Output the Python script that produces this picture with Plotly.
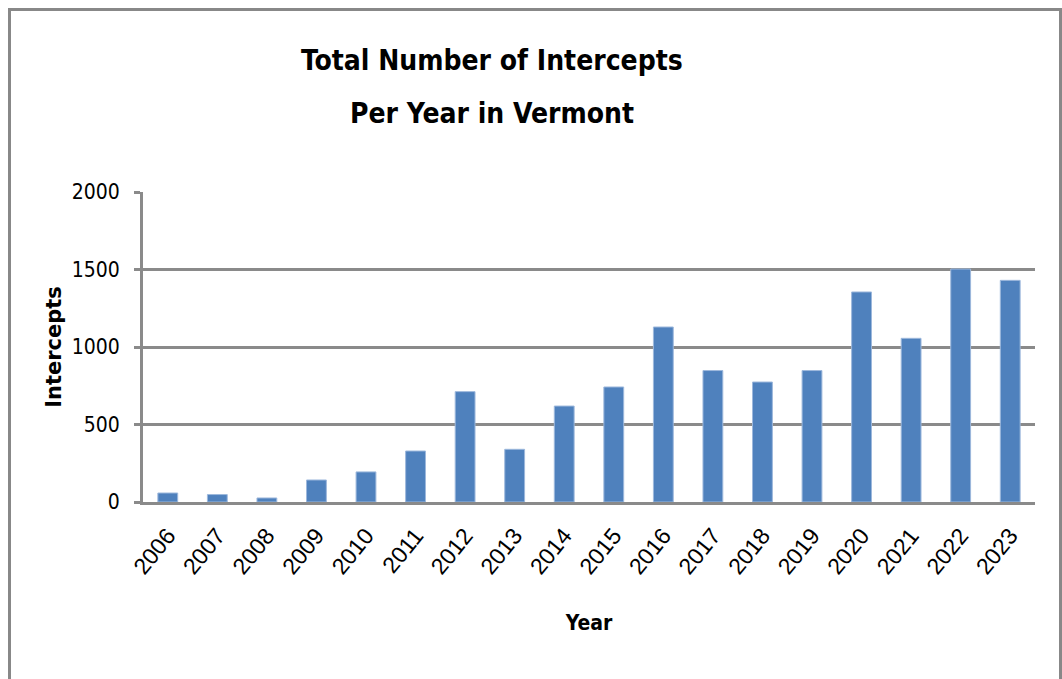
import plotly.graph_objects as go

years = ["2006", "2007", "2008", "2009", "2010", "2011", "2012", "2013", "2014",
         "2015", "2016", "2017", "2018", "2019", "2020", "2021", "2022", "2023"]
intercepts = [58, 48, 26, 142, 194, 329, 712, 340, 619,
              742, 1129, 848, 774, 848, 1355, 1056, 1503, 1430]
y_ticks = [0, 500, 1000, 1500, 2000]

W, H = 1062, 679
ML, MR, MT, MB = 143, 27, 192, 177
PW, PH = W - ML - MR, H - MT - MB

def px_x(p):
    return (p - ML) / PW

def px_y(p):
    return (H - MB - p) / PH

NARROW = "Liberation Sans Narrow, Arial Narrow, DejaVu Sans Condensed, sans-serif"
GRID = "#8a8a8a"

fig = go.Figure(go.Bar(
    x=years, y=intercepts,
    marker=dict(color="#4f81bd", line=dict(color="#9db8dc", width=1)),
))

fig.update_layout(
    width=W, height=H,
    margin=dict(l=ML, r=MR, t=MT, b=MB),
    paper_bgcolor="white", plot_bgcolor="white",
    bargap=0.6,
    showlegend=False,
    annotations=[
        dict(text="<b>Total Number of Intercepts</b>", xref="paper", yref="paper",
             x=px_x(491.5), y=px_y(60), xanchor="center", yanchor="middle",
             showarrow=False, font=dict(family=NARROW, size=28, color="black")),
        dict(text="<b>Per Year in Vermont</b>", xref="paper", yref="paper",
             x=px_x(491.5), y=px_y(114), xanchor="center", yanchor="middle",
             showarrow=False, font=dict(family=NARROW, size=28, color="black")),
    ],
    shapes=[
        dict(type="rect", xref="paper", yref="paper",
             x0=px_x(9.5), x1=px_x(1060.5), y0=px_y(700), y1=px_y(9.5),
             line=dict(color="#888888", width=3), fillcolor="rgba(0,0,0,0)", layer="below"),
    ],
)

fig.update_xaxes(
    type="category",
    tickangle=-51,
    tickfont=dict(family="Liberation Sans, Arial, sans-serif", size=23, color="black"),
    showline=True, linecolor=GRID, linewidth=3,
    ticks="", showgrid=False,
    ticklabelstandoff=8,
    title=dict(text="<b>Year</b>", font=dict(family=NARROW, size=21, color="black"), standoff=38),
)

fig.update_yaxes(
    range=[0, 2000],
    tickvals=y_ticks,
    tickfont=dict(family=NARROW, size=21, color="black"),
    showline=True, linecolor=GRID, linewidth=3,
    ticks="outside", ticklen=6, tickcolor=GRID, tickwidth=3,
    showgrid=True, gridcolor=GRID, gridwidth=3,
    zeroline=False,
    ticklabelstandoff=10,
    title=dict(text="<b>Intercepts</b>", font=dict(family="DejaVu Sans, sans-serif", size=21, color="black"), standoff=5),
)

fig.write_html("out.html", config={"displayModeBar": False},
               post_script="document.body.style.margin='0';document.body.style.padding='0';")
